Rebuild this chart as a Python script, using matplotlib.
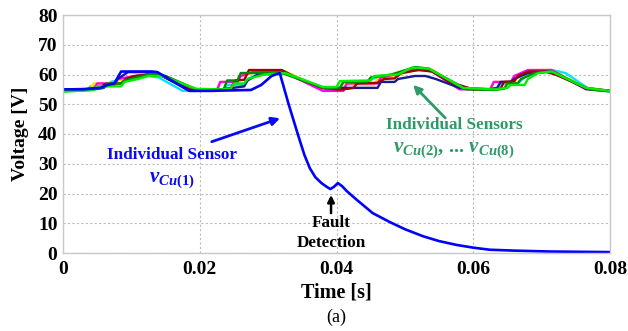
import matplotlib
matplotlib.use("Agg")
import matplotlib.pyplot as plt

plt.rcParams['font.family'] = ['Liberation Serif', 'DejaVu Serif']
plt.rcParams['mathtext.fontset'] = 'custom'
plt.rcParams['mathtext.it'] = 'Liberation Serif:italic:bold'
plt.rcParams['mathtext.rm'] = 'Liberation Serif:bold'
plt.rcParams['mathtext.bf'] = 'Liberation Serif:bold'

# ---- data (time in s, voltage in V) ----
t_red = [0, 0.004, 0.0055, 0.0062, 0.0085, 0.0092, 0.0105, 0.0125, 0.0145, 0.0185, 0.0195, 0.023, 0.0245,
         0.0252, 0.0265, 0.0272, 0.032, 0.0345, 0.038, 0.040, 0.041, 0.0425, 0.043, 0.046, 0.047, 0.0485,
         0.0495, 0.052, 0.054, 0.0565, 0.060, 0.063, 0.064, 0.0645, 0.066, 0.0665, 0.068, 0.0705, 0.072,
         0.0765, 0.08]
v_red = [55, 55.2, 55.5, 56.8, 57, 58.5, 59.5, 60, 59.5, 55, 54.8, 55, 55.2, 58, 58.2, 61.5, 61.5, 58.5,
         55.5, 55, 55, 55.5, 57, 57.2, 58.5, 58.7, 60.5, 61.5, 61, 57.5, 55, 55, 55.3, 57.5, 57.7, 59.5,
         61, 61, 60, 55.5, 54.5]

t_mag = [0, 0.003, 0.0045, 0.005, 0.0075, 0.008, 0.0105, 0.0125, 0.0145, 0.019, 0.0225, 0.023, 0.0255,
         0.026, 0.028, 0.032, 0.0335, 0.038, 0.041, 0.0415, 0.046, 0.0465, 0.0495, 0.052, 0.054, 0.058,
         0.0625, 0.063, 0.0655, 0.066, 0.068, 0.0715, 0.0765, 0.08]
v_mag = [54.5, 55, 55, 57, 57, 58.5, 59.5, 60, 59.5, 54.5, 54.5, 57.5, 57.5, 59.5, 61, 61, 59.5, 54.5,
         54.5, 57, 57, 59, 60.5, 62, 61, 55, 55, 57.5, 57.5, 59.5, 61.5, 61.5, 55, 54.5]

t_cyan = [0, 0.0035, 0.004, 0.0065, 0.007, 0.0095, 0.0125, 0.014, 0.0175, 0.0195, 0.0235, 0.024, 0.0265,
          0.027, 0.029, 0.0325, 0.0375, 0.0405, 0.041, 0.0445, 0.045, 0.048, 0.051, 0.0535, 0.0585, 0.062,
          0.0635, 0.064, 0.0665, 0.0675, 0.069, 0.0715, 0.0735, 0.077, 0.08]
v_cyan = [54.5, 54.8, 56, 56, 57.5, 59, 59.5, 59, 54.5, 54.5, 55, 56.5, 56.5, 58.5, 60.5, 60.5, 55.5, 55,
          56.5, 56.5, 58.5, 59.5, 61.5, 61.5, 55.5, 55, 55.5, 57, 57, 59, 61, 61.5, 60.5, 55, 54.3]

t_yel = [0, 0.004, 0.0045, 0.0075, 0.008, 0.010, 0.0125, 0.0145, 0.019, 0.0225, 0.023, 0.0255, 0.026,
         0.0285, 0.0325, 0.038, 0.0405, 0.041, 0.0455, 0.046, 0.049, 0.0525, 0.054, 0.058, 0.0625, 0.063,
         0.066, 0.0665, 0.0685, 0.0715, 0.0765, 0.08]
v_yel = [54.8, 55.2, 57, 57, 58, 59, 60, 59.5, 55, 55, 57.5, 57.5, 59.5, 61, 61, 55.2, 55, 56.5, 56.5,
         58.5, 60, 62, 61.5, 55.5, 55.2, 57.5, 57.5, 59.5, 61.5, 61.5, 55.5, 54.5]

t_navy = [0, 0.003, 0.0055, 0.006, 0.0075, 0.008, 0.0095, 0.0135, 0.0185, 0.0225, 0.0265, 0.027, 0.0285,
          0.0325, 0.038, 0.0395, 0.0405, 0.0415, 0.046, 0.0465, 0.0485, 0.049, 0.0515, 0.053, 0.0545,
          0.058, 0.0625, 0.0635, 0.064, 0.0655, 0.066, 0.068, 0.0715, 0.0765, 0.08]
v_navy = [54.5, 55, 55.5, 56.5, 56.5, 58.5, 60.8, 60.8, 54.5, 54.8, 56, 58, 60, 60.5, 55.5, 55.5, 55.5,
          55.5, 55.5, 57.5, 57.5, 58.5, 59.5, 59.5, 58.5, 55.5, 55, 55.5, 57.5, 57.5, 58.5, 60.5, 61,
          55.2, 54.5]

t_dgreen = [0, 0.004, 0.006, 0.0065, 0.0085, 0.009, 0.0125, 0.0135, 0.015, 0.0195, 0.0225, 0.0235, 0.024,
            0.0255, 0.026, 0.032, 0.0385, 0.0405, 0.041, 0.0445, 0.045, 0.048, 0.0515, 0.0535, 0.059,
            0.063, 0.0645, 0.065, 0.0665, 0.067, 0.069, 0.0715, 0.077, 0.08]
v_dgreen = [54.5, 54.8, 55.5, 57, 57, 58, 60, 60.3, 59.5, 55, 54.8, 55, 58, 58, 60.5, 60.5, 55.2, 55.5,
            57.5, 57.5, 59, 60, 62.5, 62, 55, 54.8, 55.2, 57, 57, 58.5, 60.5, 61, 55, 54.3]

t_lime = [0, 0.0045, 0.005, 0.0085, 0.009, 0.011, 0.0125, 0.0145, 0.0195, 0.023, 0.0245, 0.025, 0.0265,
          0.027, 0.0295, 0.0325, 0.038, 0.040, 0.0405, 0.045, 0.0455, 0.049, 0.051, 0.0535, 0.0585, 0.063,
          0.065, 0.0655, 0.0675, 0.068, 0.0695, 0.0715, 0.0765, 0.08]
v_lime = [54.2, 54.8, 56, 56, 57.5, 58.5, 59.5, 59.5, 55.2, 55, 55.2, 57, 57, 58.5, 60, 60.5, 55.8, 55.8,
          57.8, 58, 59.5, 60, 62.3, 62, 55.5, 55, 55.5, 56.5, 56.5, 58.5, 60.5, 61, 55.5, 54.5]

t_s1 = [0, 0.003, 0.0055, 0.0065, 0.0075, 0.0085, 0.013, 0.0138, 0.0185, 0.0215, 0.0275, 0.029, 0.0305,
        0.0317, 0.0330, 0.0344, 0.0353, 0.0361, 0.0369, 0.0378, 0.0386, 0.0391, 0.0396, 0.0402, 0.0408,
        0.0415, 0.043, 0.0453, 0.0478, 0.050, 0.0527, 0.055, 0.0576, 0.060, 0.0624, 0.066, 0.0712, 0.08]
v_s1 = [55, 55, 55.5, 56.5, 57, 61, 61, 60.8, 54.5, 54.5, 54.8, 56.5, 59.5, 60.5, 50, 39.5, 33, 28.5,
        25.5, 23.5, 22.2, 21.5, 22.2, 23.5, 22.5, 20.8, 17.8, 13.4, 10.4, 8.0, 5.6, 4.0, 2.7, 1.8, 1.1,
        0.8, 0.5, 0.3]

x_ticks = [0, 0.02, 0.04, 0.06, 0.08]
x_ticklabels = ['0', '0.02', '0.04', '0.06', '0.08']
y_ticks = [0, 10, 20, 30, 40, 50, 60, 70, 80]

others = [
    (t_cyan, v_cyan, '#00E5FF'),
    (t_yel, v_yel, '#FFE000'),
    (t_mag, v_mag, '#FF00FF'),
    (t_navy, v_navy, '#1A1A90'),
    (t_red, v_red, '#A00000'),
    (t_dgreen, v_dgreen, '#008A00'),
    (t_lime, v_lime, '#00EE00'),
]

fig = plt.figure(figsize=(6.28, 3.31), dpi=100)
ax = fig.add_axes([63/628, 1 - 253/331, (610 - 63)/628, (253 - 15)/331])

for tt, vv, c in others:
    ax.plot(tt, vv, color=c, lw=1.7)
ax.plot(t_s1, v_s1, color='#0000FF', lw=1.9)

ax.set_xlim(0, 0.08)
ax.set_ylim(0, 80)
ax.set_xticks(x_ticks)
ax.set_xticklabels(x_ticklabels)
ax.set_yticks(y_ticks)
ax.tick_params(length=0, labelsize=14)
ax.tick_params(axis='x', pad=6)
ax.tick_params(axis='y', pad=4)
for lab in ax.get_xticklabels() + ax.get_yticklabels():
    lab.set_fontweight('bold')
ax.grid(True, color='#BBBBBB', linestyle=(0, (2, 2)), lw=0.8)
for s in ax.spines.values():
    s.set_color('#C8C8C8')
    s.set_linewidth(1.0)

ax.set_xlabel('Time [s]', fontsize=14.5, fontweight='bold', labelpad=3)
ax.set_ylabel('Voltage [V]', fontsize=14, fontweight='bold', labelpad=6)

blue = '#0A0AF0'
green = '#2E9A68'
ax.text(0.01595, 32.9, 'Individual Sensor', color=blue, fontsize=12.3, fontweight='bold',
        ha='center', va='center')
ax.text(0.01595, 24.5, r'$v_{Cu\mathrm{(1)}}$', color=blue, fontsize=15, ha='center', va='center')
ax.annotate('', xy=(0.03175, 45.3), xytext=(0.02175, 37.4),
            arrowprops=dict(arrowstyle='-|>', color=blue, lw=2, mutation_scale=12, shrinkA=0, shrinkB=0))

ax.text(0.0572, 43.0, 'Individual Sensors', color=green, fontsize=12.3, fontweight='bold',
        ha='center', va='center')
ax.text(0.0571, 34.6, r'$v_{Cu\mathrm{(2)}}$, ... $v_{Cu\mathrm{(8)}}$', color=green, fontsize=15,
        fontweight='bold', ha='center', va='center')
ax.annotate('', xy=(0.0512, 56.5), xytext=(0.0559, 45.4),
            arrowprops=dict(arrowstyle='-|>', color=green, lw=2, mutation_scale=12, shrinkA=0, shrinkB=0))

ax.text(0.0392, 10.1, 'Fault', color='black', fontsize=12.3, fontweight='bold', ha='center', va='center')
ax.text(0.0392, 3.4, 'Detection', color='black', fontsize=12.3, fontweight='bold', ha='center', va='center')
ax.annotate('', xy=(0.0392, 19.5), xytext=(0.0392, 13.4),
            arrowprops=dict(arrowstyle='-|>', color='black', lw=1.8, mutation_scale=10, shrinkA=0, shrinkB=0))

fig.text(336/628, 1 - 317/331, '(a)', fontsize=13, ha='center', va='center')

fig.savefig('out.png', dpi=100)
